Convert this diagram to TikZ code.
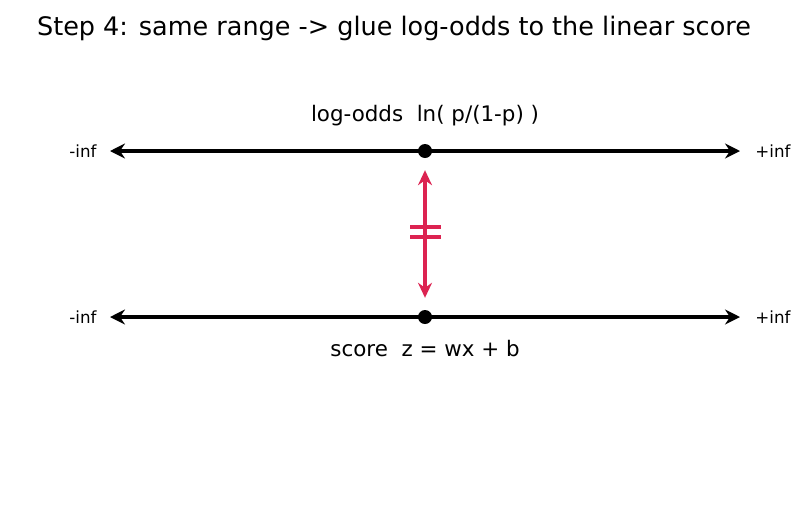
\documentclass[tikz,border=0pt]{standalone}
\usepackage{fontspec}
\setmainfont{DejaVu Sans}
\usetikzlibrary{arrows.meta}
\definecolor{glue}{HTML}{DC2351}
\tikzset{
  axis/.style={line width=3.5pt,{Stealth[length=15pt,width=15pt,inset=5pt]}-{Stealth[length=15pt,width=15pt,inset=5pt]}},
  gluearrow/.style={glue,line width=4pt,{Stealth[length=15pt,width=14pt,inset=5pt]}-{Stealth[length=15pt,width=14pt,inset=5pt]}},
  bar/.style={glue,line width=4pt},
  dot/.style={circle,fill=black,inner sep=0pt,minimum size=14pt},
  lbl/.style={font=\fontsize{21.4}{25}\selectfont,inner sep=0pt},
  endlbl/.style={font=\fontsize{16.7}{20}\selectfont,inner sep=0pt},
  ttl/.style={font=\fontsize{25.5}{30}\selectfont,inner sep=0pt}
}
\begin{document}
\begin{tikzpicture}[x=1pt,y=-1pt]
\useasboundingbox (0,0) rectangle (805,512);
\node[ttl] (title) at (394,28) {Step 4: same range -> glue log-odds to the linear score};
% top axis
\coordinate (tl) at (110,151);
\coordinate (tr) at (740,151);
\draw[axis] (tl) -- (tr);
\node[dot] (tdot) at (425,151) {};
\node[endlbl] (tminf) at (83,151) {-inf};
\node[endlbl] (tpinf) at (773,151) {+inf};
\node[lbl] (tlab) at (425,116) {log-odds\ \ ln( p/(1-p) )};
% bottom axis
\coordinate (bl) at (110,317);
\coordinate (br) at (740,317);
\draw[axis] (bl) -- (br);
\node[dot] (bdot) at (425,317) {};
\node[endlbl] (bminf) at (83,317) {-inf};
\node[endlbl] (bpinf) at (773,317) {+inf};
\node[lbl] (blab) at (425,349) {score\ \ z = wx + b};
% glue arrow
\draw[gluearrow] ([yshift=-12pt]tdot.south) -- ([yshift=12pt]bdot.north);
\coordinate (e1l) at (410,227);
\coordinate (e1r) at (441,227);
\coordinate (e2l) at (410,237);
\coordinate (e2r) at (441,237);
\draw[bar] (e1l) -- (e1r);
\draw[bar] (e2l) -- (e2r);
\end{tikzpicture}
\end{document}
